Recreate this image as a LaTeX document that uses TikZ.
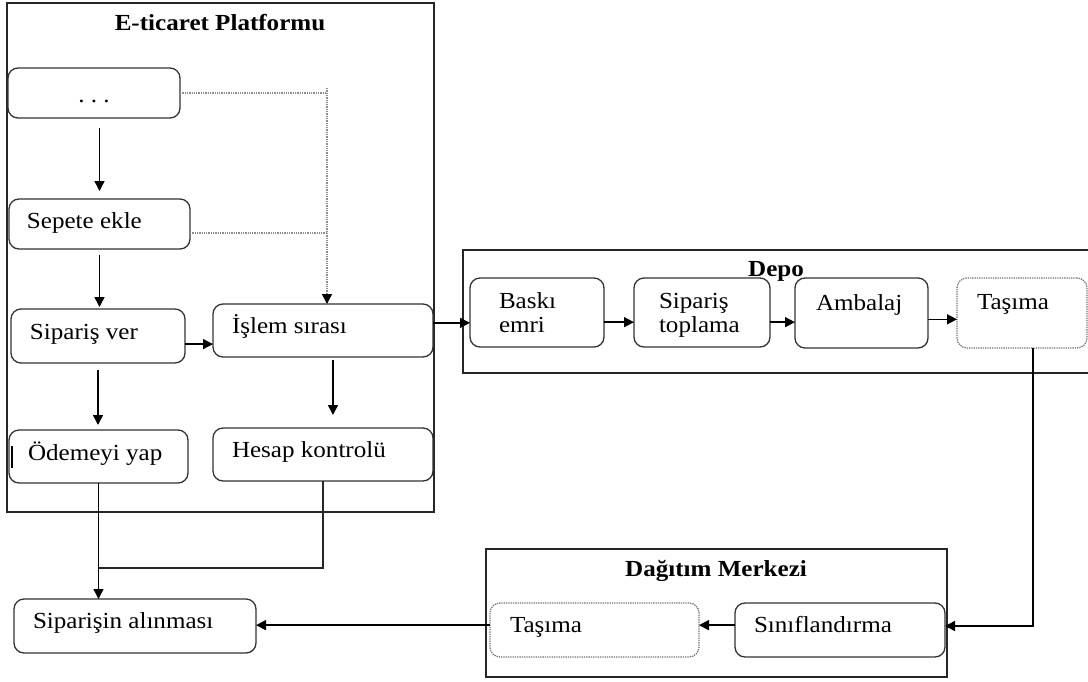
\documentclass[tikz,border=0pt]{standalone}
\usepackage{fontspec}
\setmainfont{Liberation Serif}[FakeStretch=1.09]
\usetikzlibrary{arrows.meta,calc}

\newcommand{\labelsize}{\fontsize{23pt}{27pt}\selectfont}

\tikzset{
  box/.style={draw=black!80, line width=1.3pt, rounded corners=10pt,
              anchor=north west, inner sep=0pt, outer sep=0pt},
  dotbox/.style={box, draw=black!55, densely dotted},
  frame/.style={draw=black!85, line width=1.5pt, anchor=north west,
                inner sep=0pt, outer sep=0pt},
  txt/.style={anchor=base west, inner sep=0pt, outer sep=0pt},
  ttl/.style={anchor=base, inner sep=0pt, outer sep=0pt,
              font=\labelsize\bfseries},
  arr/.style={draw=black, line width=1.5pt,
              -{Triangle[length=10pt,width=10pt]}},
  link/.style={draw=black!85, line width=1.5pt},
  dline/.style={draw=black!45, line width=1.3pt, densely dotted},
  bsize/.style 2 args={minimum width=#1pt, minimum height=#2pt},
}

\begin{document}
\begin{tikzpicture}[x=1pt, y=-1pt, font=\labelsize]
\useasboundingbox (0,0) rectangle (1088,681);

% --- group frames ---
\node[frame, bsize={427}{509}] (plat) at (7,3) {};
\node[ttl] (plat-t) at (220,30) {E-ticaret Platformu};
\node[frame, bsize={626}{123}] (depo) at (463,250) {};
\node[ttl] (depo-t) at (776,276) {Depo};
\node[frame, bsize={461}{128}] (dag) at (486,549) {};
\node[ttl] (dag-t) at (716,576) {Dağıtım Merkezi};

% --- e-commerce platform steps ---
\node[box, bsize={172}{50}] (dots) at (8,68) {};
\node[anchor=base, inner sep=0pt] (dots-t) at (94,102) {.\ .\ .};
\node[box, bsize={181}{50}] (sepete) at (9,199) {};
\node[txt] (sepete-t) at (27,228) {Sepete ekle};
\node[box, bsize={174}{54}] (sipver) at (11,309) {};
\node[txt] (sipver-t) at (30,339) {Sipariş ver};
\node[box, bsize={220}{53}] (islem) at (213,304) {};
\node[txt] (islem-t) at (232,333) {İşlem sırası};
\node[box, bsize={179}{53}] (odeme) at (9,430) {};
\node[txt] (odeme-t) at (28,460) {Ödemeyi yap};
\node[box, bsize={220}{53}] (hesap) at (213,428) {};
\node[txt] (hesap-t) at (232,457) {Hesap kontrolü};
\node[box, bsize={242}{54}] (alinma) at (14,599) {};
\node[txt] (alinma-t) at (33,628) {Siparişin alınması};

% --- warehouse steps ---
\node[box, bsize={134}{69}] (baski) at (470,278) {};
\node[txt] (baski-t1) at (499,308) {Baskı};
\node[txt] (baski-t2) at (499,332) {emri};
\node[box, bsize={136}{69}] (toplama) at (634,278) {};
\node[txt] (toplama-t1) at (659,308) {Sipariş};
\node[txt] (toplama-t2) at (659,332) {toplama};
\node[box, bsize={133}{70}] (ambalaj) at (795,278) {};
\node[txt] (ambalaj-t) at (816,310) {Ambalaj};
\node[dotbox, bsize={130}{70}] (tasima1) at (957,278) {};
\node[txt] (tasima1-t) at (977,309) {Taşıma};

% --- distribution centre steps ---
\node[dotbox, bsize={209}{54}] (tasima2) at (490,603) {};
\node[txt] (tasima2-t) at (510,632) {Taşıma};
\node[box, bsize={210}{54}] (sinif) at (735,603) {};
\node[txt] (sinif-t) at (754,632) {Sınıflandırma};

% small mark on the payment box edge
\draw[line width=1.6pt] ($(odeme.west)+(3,-11)$) -- ($(odeme.west)+(3,11)$);

% --- platform flow ---
\draw[arr, shorten <=10pt, shorten >=8pt] (dots.south -| sepete.north) -- (sepete.north);
\draw[arr, shorten <=6pt, shorten >=2pt] (sepete.south) -- (sepete.south |- sipver.north);
\draw[arr, shorten <=7pt, shorten >=5pt] (sipver.south) -- (sipver.south |- odeme.north);
\coordinate (p1) at ($(sipver.north east)!.65!(sipver.south east)$);
\draw[arr] (p1) -- (p1 -| islem.west);
\coordinate (p5) at ($(islem.south)+(10,0)$);
\draw[arr, shorten <=3pt, shorten >=13pt] (p5) -- (p5 |- hesap.north);

% dotted feeds into the order queue
\coordinate (jn) at (327,88);
\draw[dline] (dots.east) -- (dots.east -| jn);
\coordinate (p6) at ($(sepete.north east)!.68!(sepete.south east)$);
\draw[dline] (p6) -- (p6 -| jn);
\draw[dline] (jn) -- ($(jn |- islem.north)+(0,-9)$);
\draw[arr] ($(jn |- islem.north)+(0,-10)$) -- (jn |- islem.north);

% payment and account check lead to order receipt
\coordinate (j2) at (99,568);
\draw[arr] (odeme.south) -- (odeme.south |- alinma.north);
\draw[link] (hesap.south) -- (hesap.south |- j2) -- (j2);

% --- warehouse flow ---
\coordinate (p2) at ($(baski.north west)!.65!(baski.south west)$);
\draw[arr] (p2 -| islem.east) -- (p2);
\coordinate (p3) at ($(baski.north east)!.64!(baski.south east)$);
\draw[arr] (p3) -- (p3 -| toplama.west);
\coordinate (p4) at ($(toplama.north east)!.64!(toplama.south east)$);
\draw[arr] (p4) -- (p4 -| ambalaj.west);
\coordinate (p7) at ($(ambalaj.north east)!.59!(ambalaj.south east)$);
\draw[arr] (p7) -- (p7 -| tasima1.west);

% warehouse to distribution centre
\coordinate (turn) at (1033,626);
\draw[arr] (turn |- tasima1.south) -- (turn) -- (turn -| sinif.east);
\coordinate (p8) at ($(sinif.north west)!.41!(sinif.south west)$);
\draw[arr] (p8) -- (p8 -| tasima2.east);
\draw[arr] (p8 -| tasima2.west) -- (p8 -| alinma.east);

\end{tikzpicture}
\end{document}
